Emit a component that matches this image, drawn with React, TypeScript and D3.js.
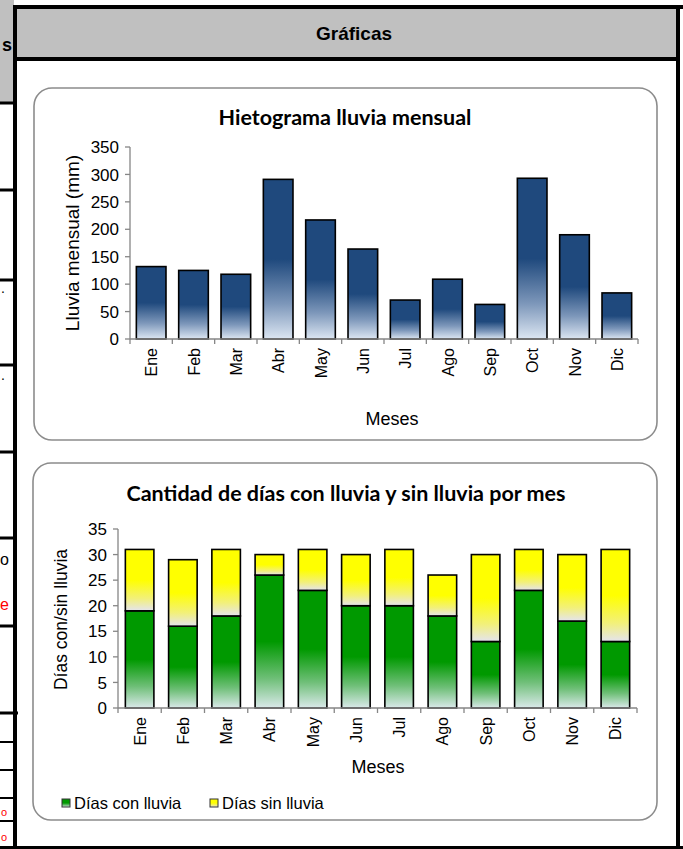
import React from 'react';
import * as d3 from 'd3';

const months = ['Ene', 'Feb', 'Mar', 'Abr', 'May', 'Jun', 'Jul', 'Ago', 'Sep', 'Oct', 'Nov', 'Dic'];
const rainfall = [132, 125, 118, 291, 217, 164, 71, 109, 63, 293, 190, 84];
const rainyDays = [19, 16, 18, 26, 23, 20, 20, 18, 13, 23, 17, 13];
const dryDays = [12, 13, 13, 4, 8, 10, 11, 8, 17, 8, 13, 18];
const rainTicks = [0, 50, 100, 150, 200, 250, 300, 350];
const dayTicks = [0, 5, 10, 15, 20, 25, 30, 35];
const legendLabels = ['Días con lluvia', 'Días sin lluvia'];

const ARIAL = '"Liberation Sans", Arial, sans-serif';
const TITLE_FONT = 'Lato, "Open Sans", sans-serif';
const AXIS = '#868686';

const leftRowLines = [103, 190, 280, 365, 452, 538, 626];
const leftThinLines = [742, 770, 798, 821];

function MonthAxis({ x, y0, step, n }: { x: d3.ScaleBand<string>; y0: number; step: number; n: number }) {
  const r = x.range();
  const ticks = d3.range(n + 1).map((i) => r[0] + i * step);
  return (
    <g>
      <line x1={r[0]} x2={r[1]} y1={y0} y2={y0} stroke={AXIS} strokeWidth={1.3} />
      {ticks.map((t, i) => (
        <line key={i} x1={t} x2={t} y1={y0} y2={y0 + 5} stroke={AXIS} strokeWidth={1.3} />
      ))}
      {x.domain().map((m) => {
        const cx = (x(m) as number) + x.bandwidth() / 2;
        return (
          <text
            key={m}
            transform={`translate(${cx + 6},${y0 + 9}) rotate(-90)`}
            textAnchor="end"
            fontFamily={ARIAL}
            fontSize={16}
            fill="#000"
          >
            {m}
          </text>
        );
      })}
    </g>
  );
}

function ValueAxis({ y, x0, ticks }: { y: d3.ScaleLinear<number, number>; x0: number; ticks: number[] }) {
  const r = y.range();
  return (
    <g>
      <line x1={x0} x2={x0} y1={r[0]} y2={r[1]} stroke={AXIS} strokeWidth={1.3} />
      {ticks.map((t) => (
        <g key={t}>
          <line x1={x0 - 5} x2={x0} y1={y(t)} y2={y(t)} stroke={AXIS} strokeWidth={1.3} />
          <text x={x0 - 11} y={y(t)} dy="0.36em" textAnchor="end" fontFamily={ARIAL} fontSize={17} fill="#000">
            {t}
          </text>
        </g>
      ))}
    </g>
  );
}

export default function App() {
  // Chart 1 scales
  const x1 = d3.scaleBand<string>().domain(months).range([130, 638]).paddingInner(0.3).paddingOuter(0.15);
  const y1 = d3.scaleLinear().domain([0, 350]).range([339, 147]);
  const step1 = x1.step();

  // Chart 2 scales
  const x2 = d3.scaleBand<string>().domain(months).range([118, 637]).paddingInner(0.34).paddingOuter(0.17);
  const y2 = d3.scaleLinear().domain([0, 35]).range([708, 529]);
  const step2 = x2.step();

  const stacked = d3
    .stack<{ m: string; wet: number; dry: number }>()
    .keys(['wet', 'dry'])(months.map((m, i) => ({ m, wet: rainyDays[i], dry: dryDays[i] })));

  const fills = ['url(#gGreen)', 'url(#gYellow)'];

  return (
    <svg width={683} height={849} style={{ position: 'absolute', left: 0, top: 0 }}>
      <defs>
        <linearGradient id="gBlue" x1="0" y1="0" x2="0" y2="1">
          <stop offset="0" stopColor="#1F497D" />
          <stop offset="0.5" stopColor="#1F497D" />
          <stop offset="0.78" stopColor="#7d97ba" />
          <stop offset="1" stopColor="#DCE6F2" />
        </linearGradient>
        <linearGradient id="gGreen" x1="0" y1="0" x2="0" y2="1">
          <stop offset="0" stopColor="#009900" />
          <stop offset="0.5" stopColor="#009900" />
          <stop offset="0.78" stopColor="#6fbf78" />
          <stop offset="1" stopColor="#DAE9EA" />
        </linearGradient>
        <linearGradient id="gYellow" x1="0" y1="0" x2="0" y2="1">
          <stop offset="0" stopColor="#FFFF00" />
          <stop offset="0.5" stopColor="#FFFF00" />
          <stop offset="0.8" stopColor="#f2f07a" />
          <stop offset="1" stopColor="#E4E4EE" />
        </linearGradient>
      </defs>
      <rect x={0} y={0} width={683} height={849} fill="#fff" />

      {/* left table strip */}
      <rect x={0} y={0} width={14} height={103} fill="#C0C0C0" />
      {leftRowLines.map((y) => (
        <rect key={y} x={0} y={y - 1.5} width={14} height={3} fill="#000" />
      ))}
      <rect x={0} y={711.5} width={18} height={3} fill="#000" />
      {leftThinLines.map((y) => (
        <rect key={y} x={0} y={y - 1} width={14} height={2} fill="#000" />
      ))}
      <text x={12} y={51} textAnchor="end" fontFamily={ARIAL} fontWeight="bold" fontSize={18}>s</text>
      <text x={1} y={293} fontFamily={ARIAL} fontSize={14}>.</text>
      <text x={1} y={380} fontFamily={ARIAL} fontSize={14}>.</text>
      <text x={9} y={565} textAnchor="end" fontFamily={ARIAL} fontSize={16}>o</text>
      <text x={9} y={610} textAnchor="end" fontFamily={ARIAL} fontSize={16} fill="#FF0000">e</text>
      <text x={1} y={816} fontFamily={ARIAL} fontSize={11} fill="#FF0000">o</text>
      <text x={1} y={841} fontFamily={ARIAL} fontSize={11} fill="#FF0000">o</text>

      {/* header */}
      <rect x={17} y={8} width={659} height={50} fill="#C0C0C0" />
      <rect x={13} y={5} width={670} height={4} fill="#000" />
      <rect x={17} y={57} width={663} height={4} fill="#000" />
      <text x={354} y={40} textAnchor="middle" fontFamily={ARIAL} fontWeight="bold" fontSize={19}>Gráficas</text>

      {/* frame lines */}
      <rect x={13} y={5} width={4} height={844} fill="#000" />
      <rect x={676} y={5} width={4} height={844} fill="#000" />
      <rect x={0} y={846} width={683} height={3} fill="#000" />

      {/* Chart 1 */}
      <rect x={34} y={88} width={623} height={352} rx={18} ry={18} fill="#fff" stroke="#8c8c8c" strokeWidth={1.6} />
      <text x={345} y={125} textAnchor="middle" fontFamily={TITLE_FONT} fontWeight="bold" fontSize={21.5}>
        Hietograma lluvia mensual
      </text>
      {months.map((m, i) => (
        <rect
          key={m}
          x={x1(m)}
          y={y1(rainfall[i])}
          width={x1.bandwidth()}
          height={y1(0) - y1(rainfall[i])}
          fill="url(#gBlue)"
          stroke="#000"
          strokeWidth={1.6}
        />
      ))}
      <ValueAxis y={y1} x0={130} ticks={rainTicks} />
      <MonthAxis x={x1} y0={339} step={step1} n={months.length} />
      <text
        transform={`translate(79,${(147 + 339) / 2}) rotate(-90)`}
        textAnchor="middle"
        fontFamily={ARIAL}
        fontSize={19}
      >
        Lluvia mensual (mm)
      </text>
      <text x={392} y={425} textAnchor="middle" fontFamily={ARIAL} fontSize={18}>Meses</text>

      {/* Chart 2 */}
      <rect x={33} y={463} width={624} height={357} rx={18} ry={18} fill="#fff" stroke="#8c8c8c" strokeWidth={1.6} />
      <text x={346} y={501} textAnchor="middle" fontFamily={TITLE_FONT} fontWeight="bold" fontSize={21.5}>
        Cantidad de días con lluvia y sin lluvia por mes
      </text>
      {stacked.map((s, si) =>
        s.map((d) => (
          <rect
            key={`${si}-${d.data.m}`}
            x={x2(d.data.m)}
            y={y2(d[1])}
            width={x2.bandwidth()}
            height={y2(d[0]) - y2(d[1])}
            fill={fills[si]}
            stroke="#000"
            strokeWidth={1.6}
          />
        ))
      )}
      <ValueAxis y={y2} x0={118} ticks={dayTicks} />
      <MonthAxis x={x2} y0={708} step={step2} n={months.length} />
      <text
        transform={`translate(67,${(529 + 708) / 2 + 1}) rotate(-90)`}
        textAnchor="middle"
        fontFamily={ARIAL}
        fontSize={17.5}
      >
        Días con/sin lluvia
      </text>
      <text x={378} y={773} textAnchor="middle" fontFamily={ARIAL} fontSize={18}>Meses</text>

      {/* legend */}
      {legendLabels.map((l, i) => {
        const lx = i === 0 ? 62 : 210;
        return (
          <g key={l}>
            <rect x={lx} y={799} width={8} height={8} fill={fills[i]} stroke="#333" strokeWidth={1} />
            <text x={lx + 12} y={809} fontFamily={ARIAL} fontSize={16.5}>{l}</text>
          </g>
        );
      })}
    </svg>
  );
}
